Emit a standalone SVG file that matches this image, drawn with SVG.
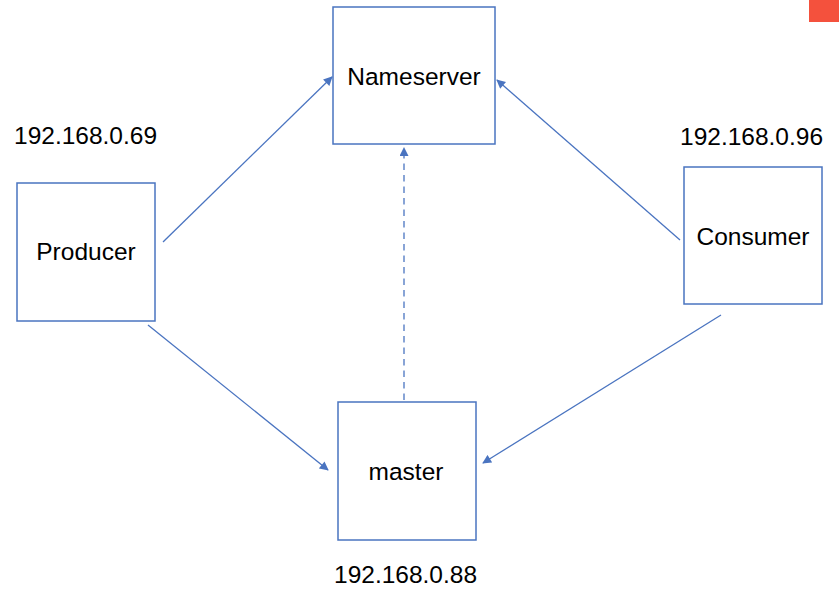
<svg xmlns="http://www.w3.org/2000/svg" width="839" height="592" viewBox="0 0 839 592">
<style>
.box{fill:#fff;stroke:#4a74c0;stroke-width:1.5}
.lbl{font-family:"Liberation Sans",Arial,sans-serif;font-size:24.5px;fill:#000}
.edge{stroke:#4a74c0;stroke-width:1.3;fill:none;marker-end:url(#ah)}
</style>
<defs>
<marker id="ah" viewBox="0 0 10 10" refX="9" refY="5" markerWidth="10" markerHeight="9" markerUnits="userSpaceOnUse" orient="auto">
<path d="M0,0 L10,5 L0,10 z" fill="#4a74c0"/>
</marker>
</defs>
<rect x="809" y="0" width="30" height="22" fill="#f4513d"/>
<g id="nameserver">
<rect class="box" x="333" y="7" width="162" height="137"/>
<text class="lbl" x="414" y="85" text-anchor="middle">Nameserver</text>
</g>
<g id="producer">
<rect class="box" x="17" y="183" width="138" height="138"/>
<text class="lbl" x="86" y="260" text-anchor="middle">Producer</text>
<text class="lbl" x="14" y="144">192.168.0.69</text>
</g>
<g id="consumer">
<rect class="box" x="684" y="167" width="138" height="137"/>
<text class="lbl" x="753" y="245" text-anchor="middle">Consumer</text>
<text class="lbl" x="680" y="145">192.168.0.96</text>
</g>
<g id="master">
<rect class="box" x="338" y="402" width="138" height="138"/>
<text class="lbl" x="406" y="480" text-anchor="middle">master</text>
<text class="lbl" x="334" y="583">192.168.0.88</text>
</g>
<g id="connectors">
<line class="edge" x1="163" y1="242" x2="332" y2="77"/>
<line class="edge" x1="680" y1="240" x2="497" y2="80"/>
<line class="edge" x1="148" y1="325" x2="328" y2="470"/>
<line class="edge" x1="721" y1="315" x2="483" y2="463"/>
<line class="edge" x1="404" y1="400" x2="404" y2="148" stroke-dasharray="6.5 5"/>
</g>
</svg>
